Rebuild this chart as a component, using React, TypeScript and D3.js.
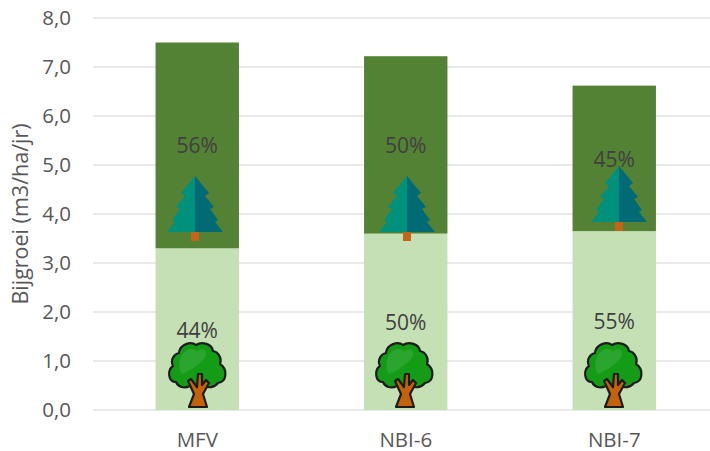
import React from "react";
import * as d3 from "d3";

const categories = ["MFV", "NBI-6", "NBI-7"];
const lowerValues = [3.3, 3.6, 3.65];
const upperValues = [4.2, 3.62, 2.97];
const lowerLabels = ["44%", "50%", "55%"];
const upperLabels = ["56%", "50%", "45%"];
const tickValues = [0, 1, 2, 3, 4, 5, 6, 7, 8];
const yTitle = "Bijgroei (m3/ha/jr)";

const W = 710, H = 451;
const font = "'Open Sans', sans-serif";
const textColor = "#595959";
const labelColor = "#404040";

const x = d3.scaleBand<string>().domain(categories).range([93, 718.5]).paddingInner(0.6).paddingOuter(0.3);
const y = d3.scaleLinear().domain([0, 8]).range([410, 18]);

const lowerLabelY = [338, 330, 329];
const upperLabelY = [153, 153, 167];
const pineX = [195, 407, 619];
const pineBase = [232, 232, 222];
const oakX = [198, 405, 614];

function Pine({ cx, base }: { cx: number; base: number }) {
  return (
    <g transform={`translate(${cx},${base})`}>
      <rect x={-4} y={0} width={8} height={9} fill="#c2661c" />
      <path d="M0,-56L-14,-39L-10,-36L-19,-25L-15,-23L-23,-12L-20,-10L-28,0L0,0Z" fill="#00917c" />
      <path d="M0,-56L14,-39L10,-36L19,-25L15,-23L23,-12L20,-10L28,0L0,0Z" fill="#006b74" />
    </g>
  );
}

function Oak({ cx }: { cx: number }) {
  return (
    <g transform={`translate(${cx},407)`} stroke="#1c1c1c" strokeWidth={2.2} strokeLinejoin="round">
      <path
        d="M-8,-21C-14,-18 -20,-20 -22,-25C-30,-25 -31,-37 -25,-41C-28,-47 -24,-53 -19,-54C-18,-63 -7,-66 -2,-62C4,-66 14,-63 15,-56C21,-55 24,-48 22,-43C30,-38 29,-25 20,-24C16,-19 10,-19 6,-21Z"
        fill="#159c17"
      />
      <path d="M-16,-52C-10,-60 -3,-59 -1,-55C3,-59 9,-58 8,-52C6,-45 -8,-36 -16,-33C-20,-38 -19,-47 -16,-52Z" fill="#2aa52e" stroke="none" />
      <path
        d="M-9,0L-4,-13L-10,-26L-7,-28L-1,-20L0,-33L4,-33L4,-22L8,-27L11,-24L5,-13L9,0Z"
        fill="#c4620a"
      />
    </g>
  );
}

export default function App() {
  return (
    <svg width={W} height={H} style={{ position: "absolute", left: 0, top: 0, background: "#fff" }} fontFamily={font}>
      {tickValues.map((t) => (
        <line key={t} x1={93} x2={710} y1={y(t)} y2={y(t)} stroke="#e2e2e2" strokeWidth={1.6} />
      ))}
      {tickValues.map((t) => (
        <text key={t} x={71} y={y(t) + 7} textAnchor="end" fontSize={20.5} fill={textColor}>
          {t.toFixed(1).replace(".", ",")}
        </text>
      ))}
      <text transform={`translate(28,214) rotate(-90)`} textAnchor="middle" fontSize={21.5} fill={textColor}>
        {yTitle}
      </text>
      {categories.map((c, i) => {
        const lowTop = y(lowerValues[i]);
        const upTop = y(lowerValues[i] + upperValues[i]);
        return (
          <g key={c}>
            <rect x={x(c)} width={x.bandwidth()} y={lowTop} height={y(0) - lowTop} fill="#c5e0b4" />
            <rect x={x(c)} width={x.bandwidth()} y={upTop} height={lowTop - upTop} fill="#548235" />
            <text x={x(c)! + x.bandwidth() / 2} y={447} textAnchor="middle" fontSize={20.5} fill={textColor}>
              {c}
            </text>
          </g>
        );
      })}
      {categories.map((c, i) => (
        <g key={c}>
          <text x={x(c)! + x.bandwidth() / 2} y={upperLabelY[i]} textAnchor="middle" fontSize={21} fill={labelColor}>
            {upperLabels[i]}
          </text>
          <text x={x(c)! + x.bandwidth() / 2} y={lowerLabelY[i]} textAnchor="middle" fontSize={21} fill={labelColor}>
            {lowerLabels[i]}
          </text>
          <Pine cx={pineX[i]} base={pineBase[i]} />
          <Oak cx={oakX[i]} />
        </g>
      ))}
    </svg>
  );
}
